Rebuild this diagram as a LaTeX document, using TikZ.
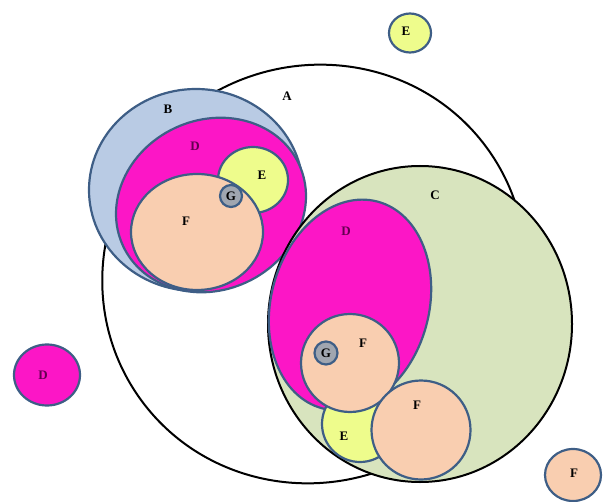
\documentclass[tikz,border=0pt]{standalone}
\usepackage{fontspec}
\setmainfont{Liberation Serif}
\definecolor{bfill}{RGB}{185,203,228}
\definecolor{dfill}{RGB}{252,22,198}
\definecolor{efill}{RGB}{238,252,140}
\definecolor{ffill}{RGB}{249,206,176}
\definecolor{gfill}{RGB}{160,166,176}
\definecolor{cfill}{RGB}{216,228,190}
\definecolor{edge}{RGB}{62,94,134}
\definecolor{dtext}{RGB}{100,0,80}
\begin{document}
\begin{tikzpicture}[x=1pt,y=-1pt,
  setbox/.style={draw=black,line width=2pt},
  blob/.style={draw=edge,line width=2.2pt},
  lab/.style={font=\fontsize{13}{15}\selectfont\bfseries,inner sep=0pt},
  dlab/.style={lab,text=dtext}]
\useasboundingbox (0,0) rectangle (604,502);
% A
\draw[setbox,rotate around={35:(314,274)}] (314,274) ellipse [x radius=214pt, y radius=207pt];
% B group
\draw[blob,fill=bfill] (196,190) ellipse [x radius=107pt, y radius=101pt];
\draw[blob,fill=dfill,rotate around={25:(211,205)}] (211,205) ellipse [x radius=97pt, y radius=85pt];
\draw[blob,fill=efill] (253,180) ellipse [x radius=35pt, y radius=33pt];
\draw[blob,fill=ffill] (197,232) ellipse [x radius=66pt, y radius=58pt];
\draw[blob,fill=gfill] (231,196) circle [radius=11pt];
% C group
\draw[setbox,fill=cfill] (420,324) ellipse [x radius=152pt, y radius=158pt];
\draw[blob,fill=dfill,rotate around={75:(350,305)}] (350,305) ellipse [x radius=107pt, y radius=79pt];
\draw[blob,fill=efill] (360,424) circle [radius=38pt];
\draw[blob,fill=ffill] (350,363) circle [radius=49pt];
\draw[blob,fill=gfill] (326,353) circle [radius=11.5pt];
\draw[blob,fill=ffill] (421,430) circle [radius=49.5pt];
% separate
\draw[blob,fill=efill] (410,33) ellipse [x radius=21pt, y radius=19.5pt];
\draw[blob,fill=dfill] (47,375) ellipse [x radius=33pt, y radius=30.5pt];
\draw[blob,fill=ffill] (573,475) ellipse [x radius=28pt, y radius=26pt];
% labels
\node[lab] (la) at (287,96) {A};
\node[lab] (lb) at (168,109) {B};
\node[dlab] (ld1) at (195,146) {D};
\node[lab] (le1) at (262,175) {E};
\node[lab] (lg1) at (231,196) {G};
\node[lab] (lf1) at (186,221) {F};
\node[lab] (lc) at (435,195) {C};
\node[dlab] (ld2) at (346,231) {D};
\node[lab] (lf2) at (363,343) {F};
\node[lab] (lg2) at (326,353) {G};
\node[lab] (lf3) at (417,405) {F};
\node[lab] (le2) at (344,436) {E};
\node[lab] (le3) at (406,31) {E};
\node[dlab] (ld3) at (43,375) {D};
\node[lab] (lf4) at (574,473) {F};
\end{tikzpicture}
\end{document}
